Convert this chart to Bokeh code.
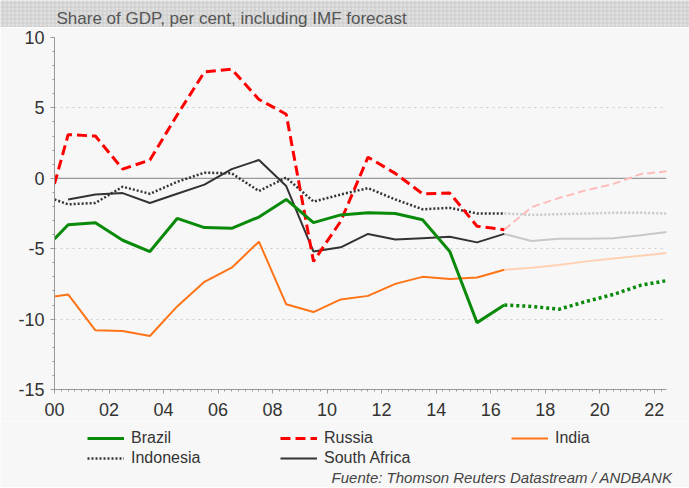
from bokeh.plotting import figure
from bokeh.layouts import column
from bokeh.models import (Legend, LegendItem, Label, BoxAnnotation, Span,
                          FixedTicker, Range1d)
from bokeh.embed import file_html
from bokeh.resources import INLINE

nan = float("nan")

# ---- data ----
hist_years = [2000.0, 2000.5, 2001.5, 2002.5, 2003.5, 2004.5, 2005.5, 2006.5,
              2007.5, 2008.5, 2009.5, 2010.5, 2011.5, 2012.5, 2013.5, 2014.5,
              2015.5, 2016.5]
brazil = [-4.3, -3.3, -3.15, -4.4, -5.2, -2.85, -3.5, -3.55, -2.75, -1.5,
          -3.15, -2.6, -2.45, -2.5, -2.95, -5.2, -10.25, -9.0]
russia = [-0.4, 3.1, 3.0, 0.65, 1.3, 4.5, 7.55, 7.75, 5.6, 4.55, -5.9, -3.05,
          1.5, 0.35, -1.1, -1.05, -3.4, -3.65]
india = [-8.4, -8.25, -10.8, -10.85, -11.2, -9.1, -7.35, -6.35, -4.5, -8.95,
         -9.5, -8.6, -8.35, -7.5, -7.0, -7.15, -7.05, -6.5]
indonesia = [-1.5, -1.85, -1.75, -0.6, -1.1, -0.25, 0.4, 0.35, -0.9, 0.05,
             -1.65, -1.15, -0.7, -1.5, -2.2, -2.1, -2.5, -2.5]
south_africa = [nan, -1.5, -1.15, -1.05, -1.75, -1.1, -0.45, 0.65, 1.3, -0.55,
                -5.2, -4.9, -3.95, -4.35, -4.25, -4.15, -4.55, -3.95]

fc_years = [2016.5, 2017.5, 2018.5, 2019.5, 2020.5, 2021.5, 2022.5]
brazil_fc = [-9.0, -9.1, -9.3, -8.75, -8.25, -7.6, -7.25]
russia_fc = [-3.65, -2.05, -1.4, -0.85, -0.4, 0.3, 0.5]
india_fc = [-6.5, -6.35, -6.15, -5.9, -5.7, -5.5, -5.3]
indonesia_fc = [-2.5, -2.6, -2.55, -2.5, -2.45, -2.45, -2.5]
south_africa_fc = [-3.95, -4.45, -4.3, -4.3, -4.25, -4.05, -3.8]

x_ticks = [2000, 2002, 2004, 2006, 2008, 2010, 2012, 2014, 2016, 2018, 2020, 2022]
x_tick_labels = ["00", "02", "04", "06", "08", "10", "12", "14", "16", "18", "20", "22"]
y_ticks = [-15, -10, -5, 0, 5, 10]
y_tick_labels = ["-15", "-10", "-5", "0", "5", "10"]

subtitle = "Share of GDP, per cent, including IMF forecast"
source_txt = "Fuente: Thomson Reuters Datastream / ANDBANK"

# ---- styles ----
FONT = "Liberation Sans"
TXT = "#333333"
AX = "#999999"
BG = "#f7f7f7"
GREEN = "#0a8a0a"
RED = "#ff0000"
ORANGE = "#ff7417"
DARK = "#333333"
W = 689

LINE_STYLES = {
    "Brazil": dict(line_color=GREEN, line_width=3),
    "Russia": dict(line_color=RED, line_width=3, line_dash="10 5"),
    "India": dict(line_color=ORANGE, line_width=2),
    "Indonesia": dict(line_color=DARK, line_width=2.5, line_dash="2 2"),
    "South Africa": dict(line_color=DARK, line_width=2),
}

# ---- header strip ----
hdr = figure(width=W, height=27, output_backend="svg", toolbar_location=None,
             x_range=Range1d(0, 1), y_range=Range1d(0, 1),
             min_border=0, min_border_left=0, min_border_right=0,
             min_border_top=0, min_border_bottom=0,
             x_axis_type=None, y_axis_type=None, frame_align=False)
hdr.grid.visible = False
hdr.outline_line_color = None
hdr.background_fill_color = "#e0e0e0"
hdr.border_fill_color = "#e0e0e0"
hdr.add_layout(BoxAnnotation(fill_color="#e0e0e0", fill_alpha=1,
                             hatch_pattern="cross", hatch_scale=4,
                             hatch_color="#cbcbcb", hatch_weight=1,
                             line_color=None))
hdr.add_layout(Label(x=56, y=9, x_units="screen", y_units="screen",
                     text=subtitle, text_font=FONT, text_font_size="17px",
                     text_color="#555555", text_baseline="middle"))

# ---- main chart ----
p = figure(width=W, height=394, output_backend="svg", toolbar_location=None,
           x_range=Range1d(2000, 2022.45), y_range=Range1d(-15, 10),
           min_border_left=54, min_border_right=23, min_border_top=10,
           min_border_bottom=32, frame_align=False)
p.background_fill_color = BG
p.border_fill_color = BG
p.outline_line_color = None

p.xaxis.ticker = FixedTicker(ticks=x_ticks,
                             minor_ticks=[2000 + 0.25 * k for k in range(0, 90)])
p.xaxis.major_label_overrides = {t: l for t, l in zip(x_ticks, x_tick_labels)}
p.yaxis.ticker = FixedTicker(ticks=y_ticks, minor_ticks=list(range(-15, 11)))
p.yaxis.major_label_overrides = {t: l for t, l in zip(y_ticks, y_tick_labels)}
for ax in (p.xaxis[0], p.yaxis[0]):
    ax.axis_line_color = AX
    ax.major_tick_line_color = AX
    ax.minor_tick_line_color = AX
    ax.major_tick_in = 0
    ax.major_tick_out = 4
    ax.minor_tick_in = 0
    ax.minor_tick_out = 2
    ax.major_label_text_font = FONT
    ax.major_label_text_font_size = "18px"
    ax.major_label_text_color = TXT
p.yaxis.major_label_standoff = 6
p.xaxis.major_label_standoff = 9

p.xgrid.visible = False
p.ygrid.grid_line_color = "#cccccc"
p.ygrid.grid_line_dash = "dotted"
p.ygrid.grid_line_width = 1
p.add_layout(Span(location=0, dimension="width", line_color=AX,
                  line_width=1.3, level="underlay"))

# forecasts (lighter)
p.line(fc_years, indonesia_fc, line_color="#c8c8c8", line_width=2.5, line_dash="2 2")
p.line(fc_years, south_africa_fc, line_color="#c8c8c8", line_width=2)
p.line(fc_years, india_fc, line_color="#ffd1b3", line_width=2)
p.line(fc_years, russia_fc, line_color="#ffbcbc", line_width=2, line_dash="8 4")
p.line(fc_years, brazil_fc, line_color=GREEN, line_width=3.5, line_dash="3 3")

# history
p.line(hist_years, indonesia, **LINE_STYLES["Indonesia"])
p.line(hist_years, south_africa, **LINE_STYLES["South Africa"])
p.line(hist_years, india, **LINE_STYLES["India"])
p.line(hist_years, russia, **LINE_STYLES["Russia"])
p.line(hist_years, brazil, **LINE_STYLES["Brazil"])

# ---- footer: legend + source ----
ft = figure(width=W, height=66, output_backend="svg", toolbar_location=None,
            x_range=Range1d(0, 1), y_range=Range1d(0, 1),
            min_border=0, min_border_left=0, min_border_right=0,
            min_border_top=0, min_border_bottom=0,
            x_axis_type=None, y_axis_type=None, frame_align=False)
ft.grid.visible = False
ft.outline_line_color = None
ft.background_fill_color = BG
ft.border_fill_color = BG

def add_leg(label, x, y):
    # placeholder renderer (NaN data, nothing drawn) that only carries the style
    r = ft.line([nan, nan], [nan, nan], **LINE_STYLES[label])
    leg = Legend(items=[LegendItem(label=label, renderers=[r])], location=(x, y),
                 orientation="horizontal", glyph_width=37, glyph_height=18,
                 label_standoff=7, padding=0, margin=0, spacing=0,
                 background_fill_alpha=0, border_line_color=None,
                 label_text_font=FONT, label_text_font_size="16px",
                 label_text_color=TXT, label_height=18)
    ft.add_layout(leg)

add_leg("Brazil", 87, 40)
add_leg("Russia", 280, 40)
add_leg("India", 511, 40)
add_leg("Indonesia", 87, 20)
add_leg("South Africa", 280, 20)

ft.add_layout(Label(x=672, y=10, x_units="screen", y_units="screen",
                    text=source_txt, text_font=FONT, text_font_size="15px",
                    text_font_style="italic", text_color="#444444",
                    text_align="right", text_baseline="middle"))

layout = column(hdr, p, ft, spacing=0)
open("out.html", "w").write(file_html(layout, INLINE))
